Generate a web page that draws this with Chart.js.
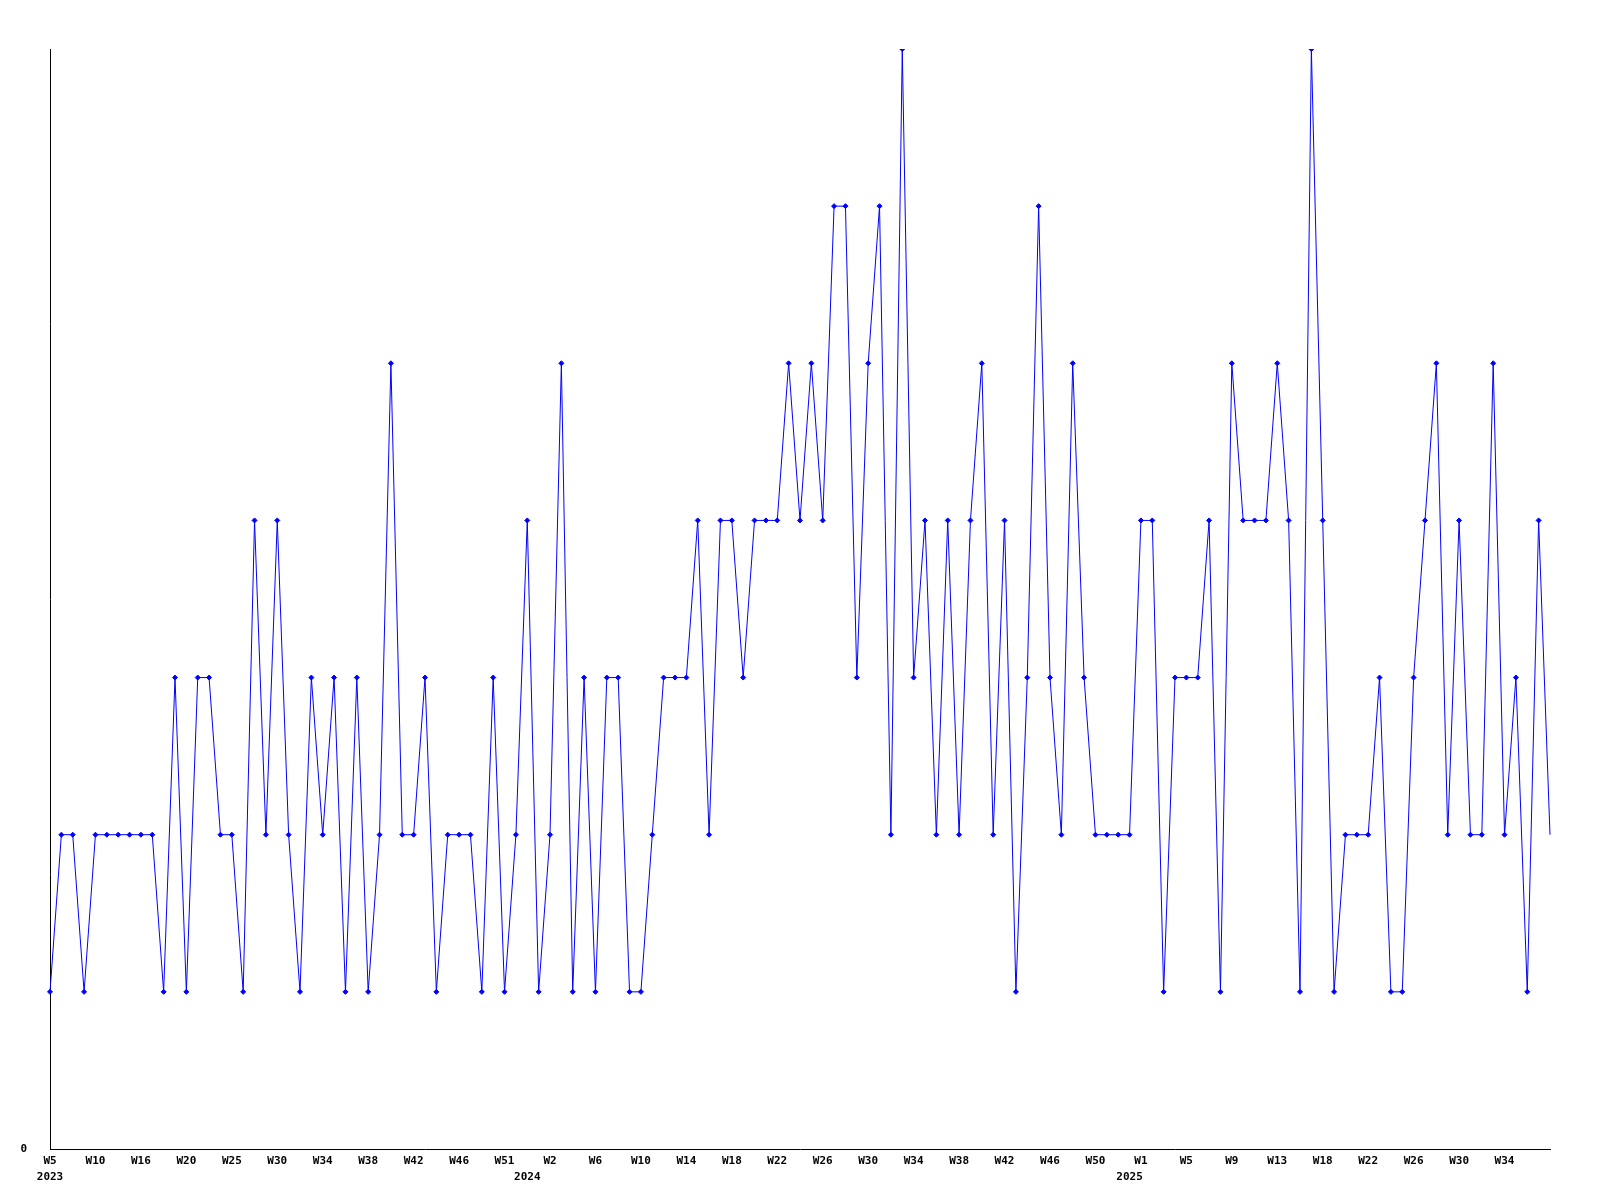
<!DOCTYPE html>
<html>
<head>
<meta charset="utf-8">
<script src="https://cdn.jsdelivr.net/npm/chart.js@4.4.0/dist/chart.umd.min.js"></script>
<style>
    body { margin: 0; background: #fff; }
    canvas { display: block; }
</style>
</head>
<body>
<canvas id="weeklyChart" width="1600" height="1200"></canvas>
<script>
// Week numbers per year (some weeks have no data)
const weeks2023 = [5, 6, 7, 9, 10, 11, 13, 14, 16, 17, 18, 19, 20, 21, 22, 24, 25, 26, 27, 29, 30,
    31, 32, 33, 34, 35, 36, 37, 38, 39, 40, 41, 42, 43, 44, 45, 46, 47, 48, 50, 51, 52];
const weeks2024 = [0, 1, 2, 3, 4, 5, 6, 7, 8, 9, 10, 11, 12, 13, 14, 15, 16, 17, 18, 19, 20,
    21, 22, 23, 24, 25, 26, 27, 28, 29, 30, 31, 32, 33, 34, 35, 36, 37, 38, 39, 40,
    41, 42, 43, 44, 45, 46, 47, 48, 49, 50, 51, 52];
const weeks2025 = [0, 1, 2, 3, 4, 5, 6, 7, 8, 9, 10, 11, 12, 13, 14, 15, 17, 18, 19, 20,
    21, 22, 23, 24, 25, 26, 27, 28, 29, 30, 31, 32, 33, 34, 35, 36, 37, 38];

// Weekly counts
const counts = [
    1, 2, 2, 1, 2, 2, 2, 2, 2, 2,
    1, 3, 1, 3, 3, 2, 2, 1, 4, 2,
    4, 2, 1, 3, 2, 3, 1, 3, 1, 2,
    5, 2, 2, 3, 1, 2, 2, 2, 1, 3,
    1, 2, 4, 1, 2, 5, 1, 3, 1, 3,
    3, 1, 1, 2, 3, 3, 3, 4, 2, 4,
    4, 3, 4, 4, 4, 5, 4, 5, 4, 6,
    6, 3, 5, 6, 2, 7, 3, 4, 2, 4,
    2, 4, 5, 2, 4, 1, 3, 6, 3, 2,
    5, 3, 2, 2, 2, 2, 4, 4, 1, 3,
    3, 3, 4, 1, 5, 4, 4, 4, 5, 4,
    1, 7, 4, 1, 2, 2, 2, 3, 1, 1,
    3, 4, 5, 2, 4, 2, 2, 5, 2, 3,
    1, 4, 2
];

const yMax = 7;
const labelEvery = 4;

// Build category labels + parallel year list
const weekLabels = [];
const years = [];
[[2023, weeks2023], [2024, weeks2024], [2025, weeks2025]].forEach(([yr, list]) => {
    list.forEach(w => {
        weekLabels.push('W' + w);
        years.push(yr);
    });
});

const tickFont = { family: 'DejaVu Sans Mono', size: 11, weight: 'bold', lineHeight: '16px' };
const lastIdx = counts.length - 1;

new Chart(document.getElementById('weeklyChart').getContext('2d'), {
    type: 'line',
    data: {
        labels: weekLabels,
        datasets: [{
            data: counts,
            borderColor: '#0000ff',
            backgroundColor: '#0000ff',
            borderWidth: 1,
            tension: 0,
            fill: false,
            pointStyle: 'rectRot',
            pointRadius: ctx => ctx.dataIndex === lastIdx ? 0 : 2.5,
            pointBorderWidth: 1,
            pointBorderColor: '#0000ff',
            pointBackgroundColor: '#0000ff'
        }]
    },
    options: {
        responsive: false,
        animation: false,
        layout: { padding: { left: 0, top: 49, right: 50, bottom: 0 } },
        plugins: {
            legend: { display: false },
            tooltip: { enabled: false }
        },
        scales: {
            x: {
                offset: false,
                grid: { display: false, drawTicks: false },
                border: { display: true, color: '#000', width: 1 },
                afterFit: scale => { scale.height = 51; },
                ticks: {
                    autoSkip: false,
                    maxRotation: 0,
                    minRotation: 0,
                    padding: 4,
                    color: '#000',
                    font: tickFont,
                    callback: function(value, index) {
                        // week every 4th point, year under the first week of each year
                        const wk = (index % labelEvery === 0 && index !== lastIdx) ? weekLabels[index] : '';
                        const firstOfYear = index === 0 || years[index] !== years[index - 1];
                        if (firstOfYear) return [wk, String(years[index])];
                        return wk;
                    }
                }
            },
            y: {
                min: 0,
                max: yMax,
                grid: { display: false, drawTicks: false },
                border: { display: true, color: '#000', width: 1 },
                afterFit: scale => { scale.width = 50; },
                ticks: {
                    stepSize: 1,
                    padding: 23,
                    color: '#000',
                    font: tickFont,
                    callback: value => value === 0 ? '0' : ''
                }
            }
        }
    }
});
</script>
</body>
</html>
